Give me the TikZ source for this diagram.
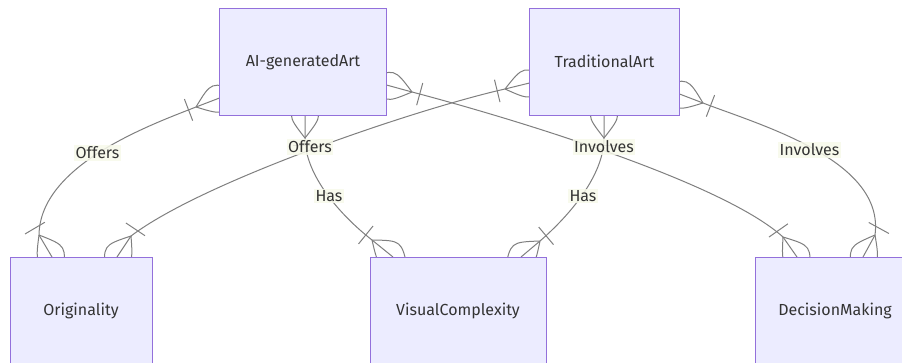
\documentclass[tikz,border=0pt]{standalone}
\usepackage{fontspec}
\setmainfont{Fira Sans}
\usetikzlibrary{calc,backgrounds}
\definecolor{boxfill}{HTML}{ECECFF}
\definecolor{boxline}{HTML}{9370DB}
\definecolor{edgecol}{HTML}{7F7F7F}
\definecolor{txt}{HTML}{333333}
\definecolor{lblbg}{HTML}{F7F9EA}
\newcommand\crowfoot[2]{%
  \draw[rel] (#1) .. controls ($(#1)!29.5pt!38:(#2)$) .. ($(#1)!46pt!(#2)$)
                  .. controls ($(#1)!29.5pt!-38:(#2)$) .. (#1);
  \draw[rel] ($(#1)!14.01pt!235.2:(#2)$) -- ($(#1)!14.01pt!124.8:(#2)$);
}
\begin{document}
\begin{tikzpicture}[x=1pt,y=-1pt,
  entity/.style={draw=boxline, fill=boxfill, line width=1pt, text=txt,
    font=\fontsize{16}{18}\selectfont, inner sep=0pt, rectangle},
  rel/.style={draw=edgecol, line width=1pt},
  lbl/.style={fill=lblbg, fill opacity=0.85, text opacity=1, text=txt,
    inner sep=1.5pt, font=\fontsize{16}{18}\selectfont}]
\useasboundingbox (0,0) rectangle (902,362);
\clip (0,0) rectangle (902,362);

% entities
\node[entity, minimum width=167pt, minimum height=106.5pt] (ai) at (303,61.75) {AI-generatedArt};
\node[entity, minimum width=150pt, minimum height=106.5pt] (trad) at (604.5,61.75) {TraditionalArt};
\node[entity, minimum width=142pt, minimum height=108pt] (orig) at (81,311) {Originality};
\node[entity, minimum width=176pt, minimum height=108pt] (vis) at (458,311) {VisualComplexity};
\node[entity, minimum width=159pt, minimum height=108pt] (dec) at (835,311) {DecisionMaking};

% marker points: C = convergence point, E = point on the box border
\coordinate (aLs) at (196,107);  \coordinate (aLe) at (219.5,98);
\coordinate (oLs) at (39,235);   \coordinate (oLe) at (52,257);
\coordinate (aBs) at (305,138);  \coordinate (aBe) at (305,115);
\coordinate (vLs) at (372,240);  \coordinate (vLe) at (393,257);
\coordinate (tBs) at (604,138);  \coordinate (tBe) at (604,115);
\coordinate (vRs) at (540,241);  \coordinate (vRe) at (521,257);
\coordinate (aRs) at (412,92);   \coordinate (aRe) at (386.5,85);
\coordinate (dLs) at (783,237);  \coordinate (dLe) at (797,257);
\coordinate (tLs) at (505,89);   \coordinate (tLe) at (529.5,83);
\coordinate (oRs) at (131,236);  \coordinate (oRe) at (117,257);
\coordinate (tRs) at (703,103);  \coordinate (tRe) at (679.5,94);
\coordinate (dRs) at (875,235);  \coordinate (dRe) at (863,257);

\begin{scope}[on background layer]
  % AI-generatedArt -- Originality
  \draw[rel] (aLe) -- (aLs) .. controls (150,125) and (40,165) .. (oLs) -- (oLe);
  % AI-generatedArt -- VisualComplexity
  \draw[rel] (aBe) -- (aBs) .. controls (305,175) and (340,215) .. (vLs) -- (vLe);
  % TraditionalArt -- VisualComplexity
  \draw[rel] (tBe) -- (tBs) .. controls (604,175) and (570,215) .. (vRs) -- (vRe);
  % AI-generatedArt -- DecisionMaking
  \draw[rel] (aRe) -- (aRs) .. controls (500,115) and (720,180) .. (dLs) -- (dLe);
  % TraditionalArt -- Originality
  \draw[rel] (tLe) -- (tLs) .. controls (420,108) and (205,180) .. (oRs) -- (oRe);
  % TraditionalArt -- DecisionMaking
  \draw[rel] (tRe) -- (tRs) .. controls (760,125) and (885,160) .. (dRs) -- (dRe);
  \foreach \c/\e in {aLs/aLe,oLs/oLe,aBs/aBe,vLs/vLe,tBs/tBe,vRs/vRe,aRs/aRe,dLs/dLe,tLs/tLe,oRs/oRe,tRs/tRe,dRs/dRe}
    {\crowfoot{\c}{\e}}
\end{scope}

% relationship labels
\node[lbl] (l1) at (97.5,153) {Offers};
\node[lbl] (l2) at (310,147) {Offers};
\node[lbl] (l3) at (329,196) {Has};
\node[lbl] (l4) at (583,196) {Has};
\node[lbl] (l5) at (604,147) {Involves};
\node[lbl] (l6) at (809.5,150) {Involves};
\end{tikzpicture}
\end{document}
